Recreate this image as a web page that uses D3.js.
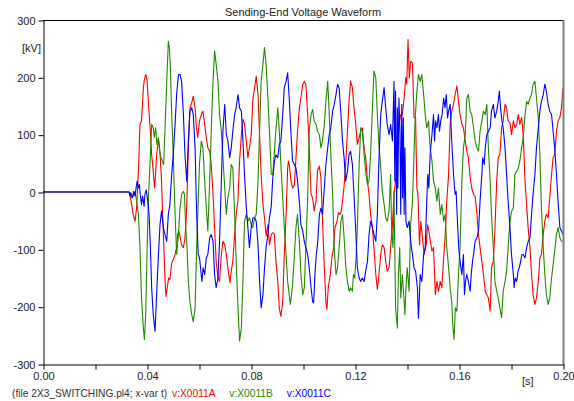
<!DOCTYPE html>
<html>
<head>
<meta charset="utf-8">
<script src="https://cdn.jsdelivr.net/npm/d3@7"></script>
<style>
  body { margin: 0; background: #fff; }
  svg text { font-family: "Liberation Sans", Arial, sans-serif; font-size: 11px; fill: #222; }
</style>
</head>
<body>
<svg id="wave" width="574" height="401"></svg>
<script>
// Sending-End Voltage Waveform (ATP plot of 2X3_SWITCHING.pl4)

// ---- data: time in ms, voltage in kV ----
let tA = [0, 33.1, 33.9, 34.7, 35.4, 36.0, 36.7, 37.3, 37.9, 38.6, 39.0, 39.5, 40.0, 40.5, 41.2, 41.8, 42.4, 42.9, 43.3, 43.7, 44.4, 44.7, 45.1, 45.6, 46.0, 46.5, 46.9, 47.3, 47.8, 48.3, 48.8, 49.5, 50.1, 50.8, 51.4, 51.8, 52.3, 52.8, 53.3, 54.0, 54.6, 55.1, 55.5, 55.9, 56.5, 57.2, 57.8, 58.5, 59.0, 59.5,
  60.2, 61.1, 61.5, 62.2, 62.8, 63.4, 64.1, 64.7, 65.4, 66.0, 66.6, 67.3, 67.9, 68.6, 69.2, 69.9, 70.5, 71.1, 71.9, 72.4, 73.0, 73.7, 74.3, 75.0, 75.6, 76.3, 76.9, 77.5, 78.2, 78.8, 79.4, 80.1, 80.7, 81.4, 82.0, 82.7, 83.3, 83.9, 84.6, 85.2, 85.8, 86.5, 87.1, 87.8,
  88.3, 89.0, 89.6, 90.3, 90.9, 91.5, 92.2, 92.8, 93.5, 94.1, 94.4, 94.7, 95.4, 96.0, 96.7, 97.3, 97.9, 98.6, 99.2, 99.9, 100.5, 101.1, 101.8, 102.4, 103.1, 103.7, 104.3, 105.0, 105.6, 106.3, 106.9, 107.5, 108.2, 108.8, 109.2, 109.7, 110.5, 111.1, 111.8, 112.3, 113.1, 113.6, 114.1, 114.6, 115.2,
  115.8, 116.4, 117.1, 117.7, 118.3, 119.0, 119.6, 120.3, 120.9, 121.6, 122.2, 122.8, 123.5, 124.1, 124.8, 125.4, 126.0, 126.7, 127.3, 128.0, 128.6, 129.2, 129.9, 130.5, 131.2, 131.8, 132.4, 133.1, 133.7, 134.4, 135.0, 135.6, 136.3, 136.9, 137.6, 138.2, 138.9, 139.5, 139.9, 140.4, 140.9, 141.4, 142.1, 142.7, 143.3,
  143.8, 144.2, 144.8, 145.3, 146.1, 146.6, 147.4, 147.9, 148.4, 149.0, 149.6, 150.2, 150.9, 151.5, 152.1, 152.8, 153.4, 154.1, 154.7, 155.3, 156.0, 156.6, 157.2, 157.9, 158.5, 159.2, 159.8, 160.4, 161.1, 161.7, 162.4, 163.0, 163.6, 164.3, 164.9, 165.6, 166.2, 166.9, 167.5, 168.1, 168.8, 169.4, 170.1, 170.7, 171.3, 172.0,
  172.5, 173.2, 173.8, 174.5, 175.1, 175.7, 176.4, 177.0, 177.7, 178.3, 178.9, 179.6, 180.2, 180.9, 181.5, 182.2, 182.8, 183.4, 184.1, 184.7, 185.4, 186.0, 186.6, 187.3, 187.9, 188.5, 189.2, 189.8, 190.5, 191.1, 191.7, 192.4, 193.0, 193.6, 194.3, 194.9, 195.6, 196.2, 196.8, 197.5, 198.1, 198.8, 199.4, 200.0];
let vA = [0, 0, -16, -39, -51, -28, 36, 118, 124, 182, 196, 205, 196, 159, 112, 65, 36, 7, 31, 65, 89, 83, 60, 19, -39, -97, -150, -182, -167, -150, -153, -124, -118, -109, -97, -74, -68, -80, -92, -97, -80, -45, 7, 77, 144, 156, 167, 147, 112, 95,
  124, 138, 141, 118, 95, 77, 71, 48, -4, -63, -121, -150, -156, -109, -86, -92, -109, -132, -158, -138, -121, -74, -39, -13, 54, 100, 127, 118, 89, 60, 77, 100, 161, 182, 202, 170, 100, 31, -22, -45, -77, -57, -92, -74,
  -71, -74, -121, -156, -203, -217, -191, -109, -39, 42, 54, 48, 19, 7, 13, 60, 106, 147, 164, 188, 193, 188, 135, 77, -4, -10, -33, -16, 38, 45, 25, -51, -132, -191, -205, -167, -144, -115, -97, -62, -51, -36, -39, -36, -16,
  10, 48, 106, 158, 193, 182, 147, 118, 83, 95, 106, 112, 77, 60, 19, -4, -39, -63, -97, -144, -170, -144, -109, -92, -97, -121, -138, -132, -97, -57, -4, 19, 65, 118, 135, 135, 164, 199, 188, 266, 199, 228, 225, 130, 130,
  7, -4, -92, -51, -86, -109, -92, -57, -68, -86, -103, -97, -179, -156, -173, -156, -167, -115, -74, -16, 31, 118, 141, 153, 170, 185, 158, 135, 118, 112, 89, 71, 60, 25, 7, -4, -7, -39, -74, -97, -121, -144, -173, -179, -185, -208,
  -132, -121, -68, 19, 60, 65, 112, 124, 153, 147, 124, 121, 100, 124, 112, 118, 135, 118, 130, 100, 19, -22, -63, -97, -144, -179, -196, -185, -156, -115, -109, -74, -51, -39, -45, -10, 31, 60, 65, 106, 124, 130, 147, 182];

let tB = [0, 33.1, 33.5, 34.1, 34.7, 35.4, 36.0, 36.7, 37.3, 37.9, 38.6, 39.0, 39.5, 40.0, 40.5, 41.2, 41.8, 42.4, 42.8, 43.3, 43.8, 44.4, 44.9, 45.4, 45.9, 46.4, 46.9, 47.6, 48.2, 48.6, 49.0, 49.5, 50.1, 50.8, 51.4, 52.1, 52.7, 53.3, 54.0, 54.4, 54.9, 55.4, 55.9, 56.5, 57.2, 57.8, 58.5, 59.1, 59.7,
  60.2, 60.9, 61.5, 62.2, 62.8, 63.4, 64.1, 64.7, 65.4, 66.0, 66.6, 67.3, 67.9, 68.6, 69.2, 69.9, 70.5, 71.1, 71.8, 72.4, 73.0, 73.7, 74.3, 75.0, 75.6, 76.3, 76.9, 77.5, 78.2, 78.8, 79.4, 80.1, 80.7, 81.4, 82.0, 82.7, 83.3, 83.9, 84.6, 85.2, 85.8, 86.5, 87.1, 87.8,
  88.4, 89.0, 89.6, 90.3, 90.9, 91.5, 92.2, 92.8, 93.5, 94.1, 94.7, 95.1, 95.6, 96.0, 96.7, 97.3, 97.9, 98.6, 99.2, 99.9, 100.5, 101.1, 101.8, 102.4, 103.1, 103.7, 104.3, 105.0, 105.6, 106.3, 106.9, 107.5, 108.2, 108.8, 109.5, 110.1, 110.7, 111.4, 112.0, 112.7, 113.3, 113.9, 114.6, 115.2, 115.9,
  116.4, 117.1, 117.7, 118.3, 119.0, 119.4, 119.9, 120.4, 120.9, 121.6, 122.2, 122.8, 123.5, 124.1, 124.8, 125.4, 126.0, 126.7, 127.3, 128.0, 128.6, 129.2, 129.9, 130.5, 131.2, 131.8, 132.4, 133.1, 133.7, 134.1, 134.6, 135.0, 135.6, 136.3, 136.7, 137.2, 137.6, 138.2, 138.9, 139.2, 139.6, 140.1, 140.8, 141.4, 142.1, 142.7, 143.1, 143.7,
  144.4, 145.1, 145.7, 146.4, 147.0, 147.6, 148.3, 148.9, 149.6, 150.2, 150.9, 151.5, 152.1, 152.8, 153.4, 154.1, 154.7, 155.3, 156.0, 156.6, 157.2, 157.6, 158.1, 158.6, 159.2, 159.8, 160.4, 161.1, 161.7, 162.4, 163.0, 163.6, 164.3, 164.9, 165.6, 166.2, 166.9, 167.5, 168.1, 168.8, 169.4, 170.1, 170.7, 171.3, 172.0,
  172.5, 173.2, 173.8, 174.5, 175.1, 175.7, 176.4, 177.0, 177.7, 178.3, 178.9, 179.6, 180.2, 180.9, 181.5, 182.2, 182.8, 183.4, 184.1, 184.7, 185.4, 186.0, 186.6, 187.3, 187.9, 188.5, 189.2, 189.8, 190.5, 191.1, 191.7, 192.4, 193.0, 193.6, 194.3, 194.9, 195.6, 196.2, 196.8, 197.5, 198.1, 198.8, 199.4, 200.0];
let vB = [0, 0, -4, -10, -7, 1, -16, -39, -97, -185, -237, -257, -214, -109, -16, 54, 118, 112, 95, 112, 83, 95, 71, 60, 54, 48, 106, 193, 263, 252, 217, 135, 65, -39, -109, -74, -28, -4, 1, -4, -62, -97, -156, -191, -214, -226, -202, -97, -16,
  50, 89, 77, 19, -28, -68, 19, 106, 193, 246, 223, 193, 135, 106, 60, 7, -39, -10, 7, 48, 42, -39, -121, -202, -260, -237, -156, -51, -39, -51, -45, -57, -62, -45, -39, 19, 106, 193, 223, 252, 223, 164, 106, 31,
  30, 70, 110, 147, 106, 48, -10, -62, -109, -156, -179, -196, -179, -161, -109, -62, -39, -86, -144, -179, -167, -97, -10, 106, 135, 144, 124, 118, 106, 100, 77, 89, 118, 158, 193, 135, 65, -4, -97, -144, -132, -97, -51, -39, -86,
  -127, -156, -173, -167, -173, -144, -150, -115, -62, 48, 112, 106, 65, 36, 13, 19, 65, 147, 211, 199, 135, 83, 42, 1, -22, -45, -51, -33, 31, -68, -97, 1, -202, -237, -144, -97, -185, -144, -191, -214, -167, -132, -173, -57, -16, 65, 124, 170,
  205, 193, 205, 170, 135, 112, 124, 77, 54, 19, 7, -16, 7, -39, -22, -51, -39, -97, -132, -167, -191, -231, -257, -202, -208, -144, -97, 19, 77, 100, 164, 170, 141, 135, 112, 89, 77, 71, 106, 124, 141, 135, 153, 77, 19,
  -39, -97, -156, -173, -185, -202, -219, -173, -156, -138, -97, -51, -34, -28, 31, 36, 42, 54, 77, 95, 135, 158, 153, 164, 170, 188, 193, 164, 129, 65, -28, -97, -144, -179, -196, -185, -150, -127, -103, -74, -62, -80, -86, -86];

let tC = [0, 33.1, 33.5, 33.8, 34.4, 34.9, 35.4, 35.8, 36.2, 36.7, 37.1, 37.4, 37.9, 38.3, 38.9, 39.2, 39.7, 40.3, 40.8, 41.3, 41.8, 42.4, 43.1, 43.7, 44.4, 45.0, 45.6, 46.3, 46.9, 47.6, 48.2, 48.8, 49.5, 50.1, 50.8, 51.4, 52.1, 52.7, 53.3, 54.0, 54.6, 55.3, 55.9, 56.5, 57.2, 57.8, 58.5, 59.1, 59.7,
  60.2, 60.6, 61.1, 61.6, 62.2, 62.8, 63.4, 64.1, 64.7, 65.4, 66.0, 66.6, 67.3, 67.9, 68.6, 69.2, 69.9, 70.5, 71.1, 71.8, 72.4, 73.0, 73.7, 74.3, 75.0, 75.6, 76.3, 76.9, 77.5, 78.2, 78.8, 79.4, 80.1, 80.7, 81.4, 82.0, 82.7, 83.3, 83.9, 84.6, 85.2, 85.8, 86.5, 87.1, 87.8,
  88.3, 89.0, 89.6, 90.3, 90.9, 91.5, 92.2, 92.8, 93.5, 94.1, 94.7, 95.4, 96.0, 96.7, 97.3, 97.9, 98.6, 99.2, 99.9, 100.5, 101.1, 101.8, 102.4, 103.1, 103.7, 104.1, 104.6, 105.1, 105.6, 106.3, 106.9, 107.5, 108.2, 108.8, 109.5, 110.1, 110.7, 111.4, 112.0, 112.7, 113.3, 113.9, 114.6, 115.2,
  115.8, 116.4, 117.1, 117.7, 118.3, 119.0, 119.6, 120.3, 120.9, 121.6, 122.2, 122.8, 123.5, 124.1, 124.8, 125.4, 126.0, 126.7, 127.3, 128.0, 128.6, 129.2, 129.9, 130.5, 131.2, 131.8, 132.4, 133.1, 133.7, 134.4, 135.0, 135.3, 135.6, 136.0, 136.3, 136.5, 136.9, 137.3, 137.6, 138.0, 138.3, 138.6, 138.9, 139.2, 139.6, 140.1, 140.8, 141.4, 142.1, 142.7, 143.3, 144.0,
  144.4, 145.1, 145.7, 146.4, 147.0, 147.6, 148.0, 148.4, 148.9, 149.6, 150.2, 150.6, 151.0, 151.5, 152.1, 152.5, 153.0, 153.5, 154.1, 154.6, 155.1, 155.6, 156.0, 156.6, 157.2, 157.9, 158.5, 158.9, 159.4, 159.9, 160.4, 161.1, 161.7, 162.1, 162.5, 163.0, 163.6, 164.3, 164.7, 165.2, 165.6, 166.2, 166.9, 167.5, 168.1, 168.8, 169.1, 169.7, 170.1, 170.7, 171.3, 172.0,
  172.5, 173.2, 173.8, 174.5, 175.1, 175.5, 176.0, 176.5, 177.0, 177.7, 178.3, 178.9, 179.6, 180.2, 180.9, 181.2, 181.6, 182.2, 182.7, 183.2, 183.7, 184.2, 184.7, 185.4, 186.0, 186.6, 187.3, 187.9, 188.5, 189.2, 189.8, 190.5, 191.1, 191.7, 192.4, 193.0, 193.6, 194.3, 194.9, 195.6, 196.2, 196.8, 197.5, 198.1, 198.8, 199.4, 200.0];
let vC = [0, 0, -7, -1, -10, 1, -7, 7, 19, 7, 13, -4, -22, -7, -25, -4, 4, -16, -39, -97, -167, -214, -243, -179, -109, -57, -33, -62, -74, -86, -39, -22, 31, 65, 118, 170, 205, 205, 193, 135, 65, 19, 89, 141, 147, 135, 77, -39, -109,
  -115, -132, -156, -132, -144, -115, -109, -80, -74, -86, -144, -167, -150, -86, 19, 106, 153, 100, 89, 60, 77, 106, 135, 147, 170, 147, 141, 89, 31, -28, -62, -97, -62, -45, -45, -51, -91, -156, -202, -179, -132, -97, -74, -45, -25,
  19, 54, 65, 60, 83, 89, 135, 182, 193, 208, 164, 100, 54, 48, 42, 19, -16, -57, -68, -86, -97, -109, -132, -167, -191, -193, -144, -109, -91, -39, -28, -39, 7, 48, 77, 100, 112, 141, 153, 170, 188, 182, 135, 89,
  60, 19, 36, 65, 71, 48, -4, -68, -132, -150, -156, -150, -156, -138, -121, -74, -51, -62, -74, -86, -39, 54, 135, 158, 182, 147, 118, 100, 118, 89, 193, 19, 176, -39, 147, 7, 164, 106, -39, 153, -10, 129, -39, 77, -51, -62, -51, -86, -109, -132, -138, -167,
  -220, -144, -156, -109, -97, -16, 31, 7, 65, 100, 135, 89, 124, 112, 135, 106, 124, 135, 164, 147, 170, 129, 141, 153, 89, 31, -4, 1, -51, -97, -121, -144, -109, -179, -156, -144, -156, -173, -144, -121, -109, -86, -80, -68, -16, 31, 60, 48, 77, 100, 106, 112,
  141, 153, 129, 141, 158, 176, 147, 124, 112, 77, 31, -16, -62, -109, -144, -167, -150, -156, -138, -132, -121, -109, -109, -115, -97, -86, -80, -39, -4, 31, 77, 112, 141, 158, 170, 188, 176, 153, 141, 135, 106, 77, 31, -16, -62, -68, -74];

let seriesNames = ['v:X0011A', 'v:X0011B', 'v:X0011C'];
let seriesColors = ['#ff0000', '#238a00', '#0000ff'];

let yTicks = [-300, -200, -100, 0, 100, 200, 300];
let xTicks = [0, 0.02, 0.04, 0.06, 0.08, 0.10, 0.12, 0.14, 0.16, 0.18, 0.20];
let xTickLabels = ['0.00', '', '0.04', '', '0.08', '', '0.12', '', '0.16', '', '0.20'];

////////////////////////// SETUP //////////////////////////
let pLeft = 43, pRight = 563, pTop = 20, pBottom = 364;

let svg = d3.select('#wave');

let xScale = d3.scaleLinear().domain([0, 0.2]).range([pLeft, pRight]);
let yScale = d3.scaleLinear().domain([-300, 300]).range([pBottom, pTop]);

svg.append('clipPath').attr('id', 'plotClip')
  .append('rect')
  .attr('x', pLeft).attr('y', pTop)
  .attr('width', pRight - pLeft).attr('height', pBottom - pTop);

// waveforms
let line = d3.line()
  .x((d) => xScale(d[0] / 1000))
  .y((d) => yScale(d[1]));

let allSeries = [d3.zip(tA, vA), d3.zip(tB, vB), d3.zip(tC, vC)];

svg.append('g')
  .attr('clip-path', 'url(#plotClip)')
  .selectAll('path')
  .data(allSeries)
  .enter()
  .append('path')
  .attr('d', line)
  .attr('fill', 'none')
  .attr('stroke', (d, i) => seriesColors[i])
  .attr('stroke-width', 1.1)
  .attr('stroke-linejoin', 'round');

// frame: top black, right grey
svg.append('line')
  .attr('x1', pLeft).attr('x2', pRight)
  .attr('y1', pTop + 0.5).attr('y2', pTop + 0.5)
  .attr('stroke', '#000').attr('stroke-width', 1);
svg.append('line')
  .attr('x1', pRight + 0.5).attr('x2', pRight + 0.5)
  .attr('y1', pTop).attr('y2', pBottom + 1)
  .attr('stroke', '#7f7f7f').attr('stroke-width', 2);

// AXES
let yAxis = d3.axisLeft(yScale)
  .tickValues(yTicks)
  .tickSize(5)
  .tickSizeOuter(0)
  .tickPadding(3)
  .tickFormat((d) => d);
let yAxisGroup = svg.append('g')
  .attr('transform', `translate(${pLeft + 0.5}, 0.5)`)
  .call(yAxis);

let xAxis = d3.axisBottom(xScale)
  .tickValues(xTicks)
  .tickSize(5)
  .tickSizeOuter(0)
  .tickPadding(3)
  .tickFormat((d, i) => xTickLabels[i]);
let xAxisGroup = svg.append('g')
  .attr('transform', `translate(0.5, ${pBottom + 0.5})`)
  .call(xAxis);

svg.selectAll('.tick line').attr('stroke', '#000');
svg.selectAll('.domain').attr('stroke', '#000');
svg.selectAll('.tick text')
  .attr('fill', '#222')
  .style('font-family', '"Liberation Sans", Arial, sans-serif')
  .style('font-size', '11px');

// titles and units
svg.append('text')
  .attr('x', (pLeft + pRight) / 2)
  .attr('y', 16)
  .attr('text-anchor', 'middle')
  .text('Sending-End Voltage Waveform');

svg.append('text')
  .attr('x', 22)
  .attr('y', 52)
  .text('[kV]');

svg.append('text')
  .attr('x', 522)
  .attr('y', 385)
  .text('[s]');

// footer with file name and legend
let footer = svg.append('text')
  .attr('x', 12)
  .attr('y', 397)
  .style('font-size', '10.2px')
  .style('fill', '#333');
footer.append('tspan').text('(file 2X3_SWITCHING.pl4; x-var t)');
seriesNames.forEach((name, i) => {
  footer.append('tspan')
    .attr('dx', i == 0 ? 5 : 14)
    .style('fill', seriesColors[i])
    .text(name);
});
</script>
</body>
</html>
